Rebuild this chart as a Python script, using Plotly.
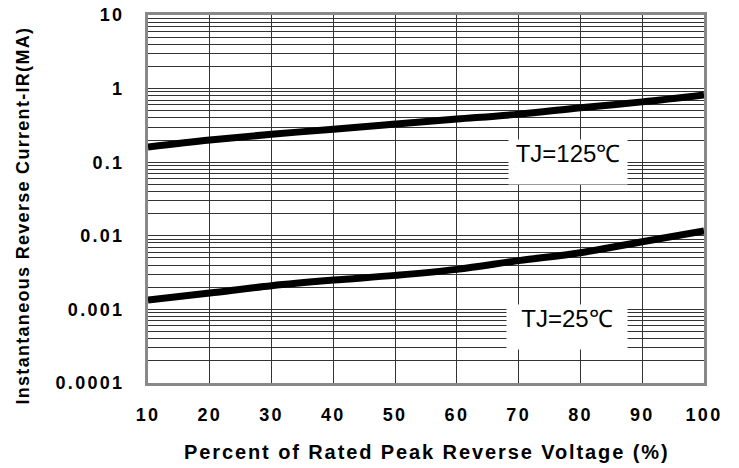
import plotly.graph_objects as go

voltage_pct = [10, 20, 30, 40, 50, 60, 70, 80, 90, 100]
ir_125 = [0.161, 0.2, 0.24, 0.28, 0.33, 0.385, 0.45, 0.55, 0.66, 0.82]
ir_25 = [0.00134, 0.00167, 0.0021, 0.0025, 0.0029, 0.0035, 0.0046, 0.0059, 0.0083, 0.0116]
decade_labels = ["0.0001", "0.001", "0.01", "0.1", "1", "10"]
x_ticks = [10, 20, 30, 40, 50, 60, 70, 80, 90, 100]
x_title = "Percent of Rated Peak Reverse Voltage (%)"
y_title = "Instantaneous Reverse Current-IR(MA)"

SP = '<span style="letter-spacing:2.3px"><b>{}</b></span>'

tickvals, ticktext = [], []
for i, lab in enumerate(decade_labels):
    base = float(lab)
    tickvals.append(base)
    ticktext.append(SP.format(lab))
    if i < len(decade_labels) - 1:
        for m in range(2, 10):
            tickvals.append(base * m)
            ticktext.append("")

fig = go.Figure()
for ys in (ir_125, ir_25):
    fig.add_trace(go.Scatter(x=voltage_pct, y=ys, mode="lines",
                             line=dict(color="black", width=7, shape="spline"),
                             showlegend=False))

FAM = "Arial, Liberation Sans"
fig.update_layout(
    width=739, height=468,
    margin=dict(l=148, r=35, t=15, b=85, autoexpand=False),
    paper_bgcolor="white", plot_bgcolor="white",
    font=dict(family=FAM, size=18, color="black"),
    xaxis=dict(range=[10, 100], tickvals=x_ticks, ticktext=[SP.format(v) for v in x_ticks],
               showgrid=True, gridcolor="#333", gridwidth=1,
               showline=True, mirror=True, linecolor="#888", linewidth=3,
               ticks="", ticklabelstandoff=13, zeroline=False, automargin=False,
               tickfont=dict(family=FAM, size=18)),
    yaxis=dict(type="log", range=[-4, 1], tickvals=tickvals, ticktext=ticktext,
               showgrid=True, gridcolor="#333", gridwidth=1,
               showline=True, mirror=True, linecolor="#888", linewidth=3,
               ticks="", ticklabelstandoff=17, zeroline=False, automargin=False,
               tickfont=dict(family=FAM, size=18)),
)

fig.add_annotation(xref="paper", yref="paper", x=0.5, y=-0.1875, xanchor="center", yanchor="middle",
                   text=f'<span style="letter-spacing:1.9px"><b>{x_title}</b></span>',
                   showarrow=False, font=dict(family=FAM, size=20, color="black"))
fig.add_annotation(xref="paper", yref="paper", x=-0.2248, y=0.455, xanchor="center", yanchor="middle",
                   textangle=-90,
                   text=f'<span style="letter-spacing:1.3px"><b>{y_title}</b></span>',
                   showarrow=False, font=dict(family=FAM, size=18, color="black"))

fig.add_annotation(x=78, y=-1.0, text="TJ=125℃", showarrow=False, bgcolor="white",
                   font=dict(family=FAM, size=24, color="black"),
                   width=118, height=44, valign="top", borderpad=0)
fig.add_annotation(x=77.8, y=-3.24, text="TJ=25℃", showarrow=False, bgcolor="white",
                   font=dict(family=FAM, size=24, color="black"),
                   width=120, height=44, valign="top", borderpad=0)

fig.write_html("out.html")
